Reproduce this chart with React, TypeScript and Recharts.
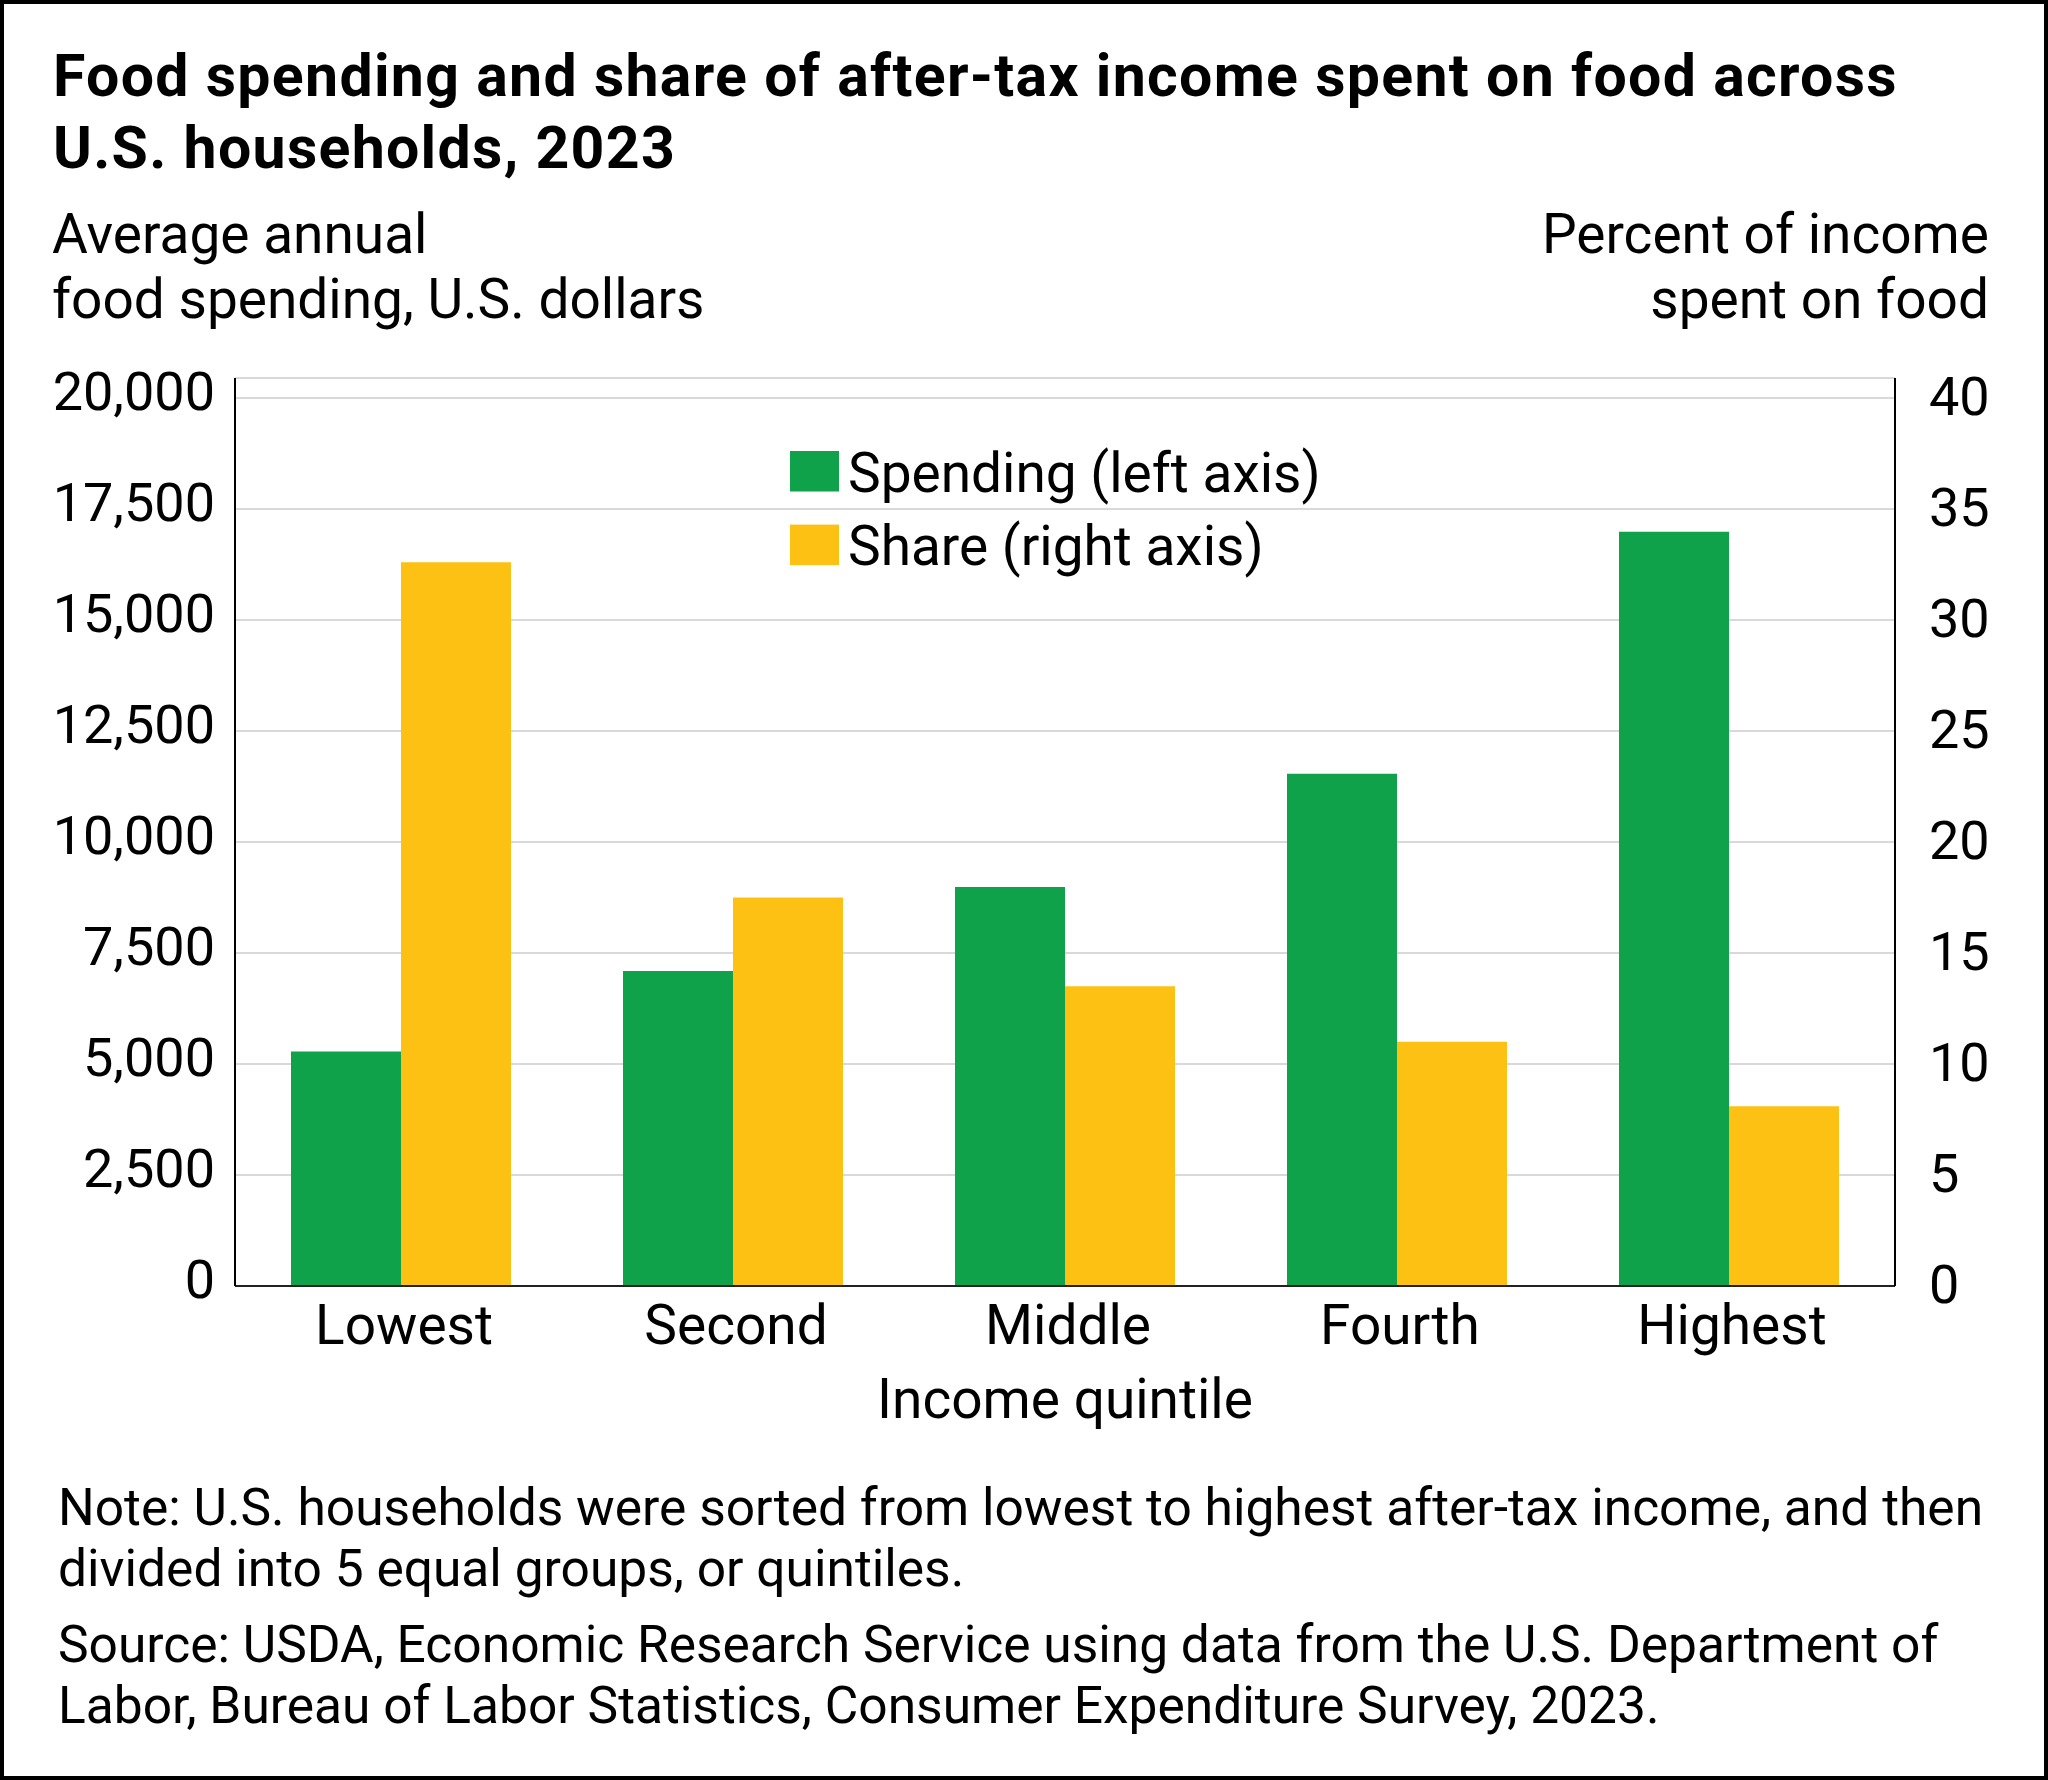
import React from 'react'
import {
  BarChart,
  Bar,
  XAxis,
  YAxis,
  CartesianGrid,
  Legend,
  Label,
} from 'recharts'

// Income quintiles, 2023
const quintiles = ['Lowest', 'Second', 'Middle', 'Fourth', 'Highest']
// Average annual food spending, U.S. dollars (left axis)
const spending = [5280, 7095, 8985, 11535, 16990]
// Percent of after-tax income spent on food (right axis)
const share = [32.6, 17.5, 13.5, 11.0, 8.1]

const leftTicks = [0, 2500, 5000, 7500, 10000, 12500, 15000, 17500, 20000]
const rightTicks = [0, 5, 10, 15, 20, 25, 30, 35, 40]

const seriesNames = ['Spending (left axis)', 'Share (right axis)']

const titleLines = [
  'Food spending and share of after-tax income spent on food across',
  'U.S. households, 2023',
]
const leftAxisTitle = ['Average annual', 'food spending, U.S. dollars']
const rightAxisTitle = ['Percent of income', 'spent on food']
const noteLines = [
  'Note: U.S. households were sorted from lowest to highest after-tax income, and then',
  'divided into 5 equal groups, or quintiles.',
]
const sourceLines = [
  'Source: USDA, Economic Research Service using data from the U.S. Department of',
  'Labor, Bureau of Labor Statistics, Consumer Expenditure Survey, 2023.',
]

const GREEN = '#10A14B'
const YELLOW = '#FDC113'
const FONT = 'Roboto, "Noto Sans", sans-serif'

const data = quintiles.map((q, i) => ({
  quintile: q,
  spending: spending[i],
  share: share[i],
}))

// axis tops sit a little above the top gridline, so stretch the domains
const PLOT_H = 908
const TOP_GRID_H = 888
const leftMax = (20000 * PLOT_H) / TOP_GRID_H
const rightMax = (40 * PLOT_H) / TOP_GRID_H

function LeftTick({ x, y, payload }: any) {
  return (
    <text x={x} y={y + 12} textAnchor="end" fontSize={54} fontFamily={FONT} fill="#000">
      {Number(payload.value).toLocaleString('en-US')}
    </text>
  )
}

function RightTick({ x, y, payload }: any) {
  return (
    <text x={x} y={y + 17} textAnchor="start" fontSize={54} fontFamily={FONT} fill="#000">
      {payload.value}
    </text>
  )
}

function CategoryTick({ x, y, payload }: any) {
  return (
    <text x={x + 3} y={y + 38} textAnchor="middle" fontSize={55} fontFamily={FONT} fill="#000">
      {payload.value}
    </text>
  )
}

function LegendBox() {
  const items = [
    { label: seriesNames[0], color: GREEN },
    { label: seriesNames[1], color: YELLOW },
  ]
  return (
    <svg width={640} height={180} style={{ display: 'block', overflow: 'visible' }}>
      {items.map((it, i) => (
        <g key={it.label} transform={`translate(0, ${i * 73.6})`}>
          <rect x={0} y={0} width={49} height={40.5} fill={it.color} />
          <text x={58} y={40.5} fontSize={55} fontFamily={FONT} fill="#000">
            {it.label}
          </text>
        </g>
      ))}
    </svg>
  )
}

export default function App() {
  return (
    <div
      style={{
        position: 'relative',
        width: 2048,
        height: 1780,
        background: '#fff',
        fontFamily: FONT,
      }}
    >
      <style>{'body{margin:0;}'}</style>
      <svg
        width={2048}
        height={1780}
        style={{ position: 'absolute', left: 0, top: 0 }}
        fontFamily={FONT}
      >
        {titleLines.map((t, i) => (
          <text
            key={t}
            x={53}
            y={96 + i * 71.5}
            fontSize={59}
            fontWeight={700}
            letterSpacing={1.3}
            fill="#000"
          >
            {t}
          </text>
        ))}
        {leftAxisTitle.map((t, i) => (
          <text key={t} x={52} y={253 + i * 65} fontSize={55} fill="#000">
            {t}
          </text>
        ))}
        {rightAxisTitle.map((t, i) => (
          <text key={t} x={1989} y={253 + i * 65} fontSize={55} textAnchor="end" fill="#000">
            {t}
          </text>
        ))}
        {noteLines.map((t, i) => (
          <text key={t} x={58} y={1525 + i * 61} fontSize={51.5} fill="#000">
            {t}
          </text>
        ))}
        {sourceLines.map((t, i) => (
          <text key={t} x={58} y={1662 + i * 60.5} fontSize={51.5} fill="#000">
            {t}
          </text>
        ))}
      </svg>
      <div style={{ position: 'absolute', left: 0, top: 0 }}>
        <BarChart
          width={2048}
          height={1780}
          data={data}
          margin={{ top: 378, right: 4, bottom: 354, left: 55 }}
          barGap={0}
        >
          <CartesianGrid
            yAxisId="left"
            vertical={false}
            stroke="#cccccc"
            strokeWidth={1.5}
          />
          <XAxis
            dataKey="quintile"
            height={140}
            tickLine={false}
            tickSize={0}
            tickMargin={20}
            axisLine={{ stroke: '#222', strokeWidth: 2 }}
            tick={<CategoryTick />}
            interval={0}
          >
            <Label
              value="Income quintile"
              position="insideBottom"
              offset={8}
              fontSize={55}
              fontFamily={FONT}
              fill="#000"
            />
          </XAxis>
          <YAxis
            yAxisId="left"
            orientation="left"
            width={180}
            domain={[0, leftMax]}
            ticks={leftTicks}
            tickLine={false}
            tickSize={0}
            tickMargin={20}
            axisLine={{ stroke: '#000', strokeWidth: 2 }}
            tick={<LeftTick />}
            interval={0}
          />
          <YAxis
            yAxisId="right"
            orientation="right"
            width={149}
            domain={[0, rightMax]}
            ticks={rightTicks}
            tickLine={false}
            tickSize={0}
            tickMargin={34}
            axisLine={{ stroke: '#000', strokeWidth: 2 }}
            tick={<RightTick />}
            interval={0}
          />
          <Legend
            layout="vertical"
            align="center"
            verticalAlign="middle"
            content={<LegendBox />}
            wrapperStyle={{ left: 790, top: 451, width: 640, height: 180 }}
          />
          <Bar
            yAxisId="left"
            dataKey="spending"
            name={seriesNames[0]}
            fill={GREEN}
            barSize={110}
            isAnimationActive={false}
          />
          <Bar
            yAxisId="right"
            dataKey="share"
            name={seriesNames[1]}
            fill={YELLOW}
            barSize={110}
            isAnimationActive={false}
          />
        </BarChart>
      </div>
      <div
        style={{
          position: 'absolute',
          left: 0,
          top: 0,
          width: 2048,
          height: 1780,
          border: '4px solid #000',
          boxSizing: 'border-box',
          pointerEvents: 'none',
        }}
      />
    </div>
  )
}
